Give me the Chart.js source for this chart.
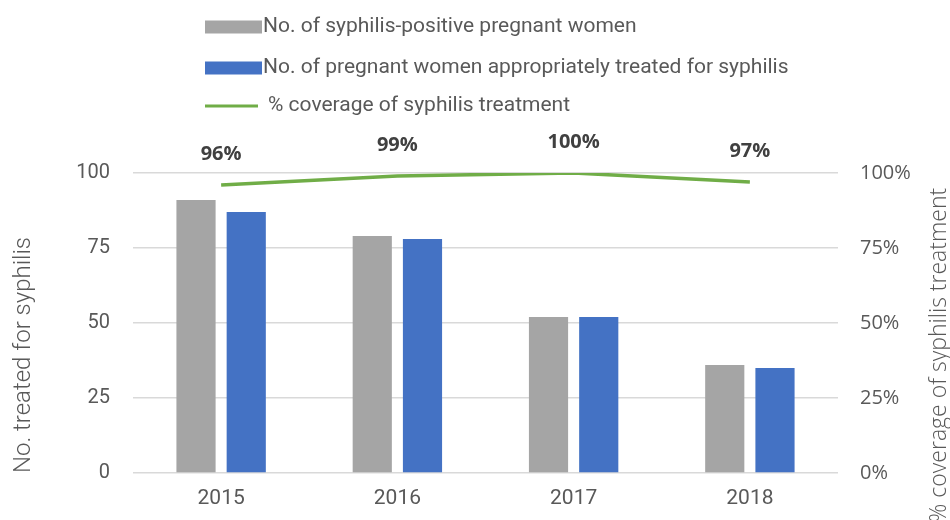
<!DOCTYPE html>
<html>
<head>
<meta charset="utf-8">
<script src="https://cdn.jsdelivr.net/npm/chart.js@4.4.0/dist/chart.umd.min.js"></script>
<style>
  html, body { margin: 0; padding: 0; background: #ffffff; }
  #wrap { width: 950px; height: 520px; }
</style>
</head>
<body>
<div id="wrap"><canvas id="c" width="950" height="520"></canvas></div>
<script>
// Syphilis screening and treatment among pregnant women, 2015-2018
const years = ['2015', '2016', '2017', '2018'];
const positiveWomen = [91, 79, 52, 36];
const treatedWomen = [87, 78, 52, 35];
const coveragePct = [96, 99, 100, 97];

const seriesNames = [
  'No. of syphilis-positive pregnant women',
  'No. of pregnant women appropriately treated for syphilis',
  '% coverage of syphilis treatment'
];
const leftTitle = 'No. treated for syphilis';
const rightTitle = '% coverage of syphilis treatment';

const GRAY = '#A5A5A5', BLUE = '#4472C4', GREEN = '#70AD47';
const TEXT = '#595959';

// Stacked legend drawn above the plot
const stackedLegend = {
  id: 'stackedLegend',
  afterDraw(chart) {
    const ctx = chart.ctx;
    const x0 = 205, boxW = 57, boxH = 13;
    const rows = [27, 68, 106];
    ctx.save();
    ctx.font = '400 21px Roboto';
    ctx.textBaseline = 'middle';
    ctx.textAlign = 'left';
    chart.data.datasets.forEach((ds, i) => {
      const y = rows[i];
      if (ds.type === 'line') {
        ctx.strokeStyle = ds.borderColor;
        ctx.lineWidth = 3;
        ctx.beginPath();
        ctx.moveTo(x0, y);
        ctx.lineTo(x0 + boxW - 4, y);
        ctx.stroke();
        ctx.fillStyle = TEXT;
        ctx.fillText(ds.label, x0 + boxW + 6, y);
      } else {
        ctx.fillStyle = ds.backgroundColor;
        ctx.fillRect(x0, y - boxH / 2, boxW, boxH);
        ctx.fillStyle = TEXT;
        ctx.fillText(ds.label, x0 + boxW + 1, y);
      }
    });
    ctx.restore();
  }
};

// Percentage labels above the coverage line
const coverageLabels = {
  id: 'coverageLabels',
  afterDatasetsDraw(chart) {
    const ctx = chart.ctx;
    const idx = chart.data.datasets.findIndex(d => d.type === 'line');
    const meta = chart.getDatasetMeta(idx);
    const vals = chart.data.datasets[idx].data;
    ctx.save();
    ctx.font = '700 20px "Open Sans"';
    ctx.fillStyle = '#404040';
    ctx.textAlign = 'center';
    ctx.textBaseline = 'middle';
    meta.data.forEach((pt, i) => {
      ctx.fillText(vals[i] + '%', pt.x, pt.y - 31);
    });
    ctx.restore();
  }
};

// Rotated axis titles, both reading bottom-to-top
const axisTitles = {
  id: 'axisTitles',
  afterDraw(chart) {
    const ctx = chart.ctx;
    const cy = 355;
    ctx.save();
    ctx.fillStyle = TEXT;
    ctx.textAlign = 'center';
    ctx.textBaseline = 'middle';
    ctx.translate(24, cy);
    ctx.rotate(-Math.PI / 2);
    ctx.font = '300 24px Roboto';
    ctx.fillText(leftTitle, 0, 0);
    ctx.restore();

    ctx.save();
    ctx.fillStyle = TEXT;
    ctx.textAlign = 'center';
    ctx.textBaseline = 'middle';
    ctx.translate(939, cy);
    ctx.rotate(-Math.PI / 2);
    ctx.font = '300 23px "Open Sans"';
    ctx.fillText(rightTitle, 0, 0);
    ctx.restore();
  }
};

new Chart(document.getElementById('c'), {
  data: {
    labels: years,
    datasets: [
      {
        type: 'bar', label: seriesNames[0], data: positiveWomen,
        backgroundColor: GRAY, yAxisID: 'y',
        categoryPercentage: 0.57, barPercentage: 0.78
      },
      {
        type: 'bar', label: seriesNames[1], data: treatedWomen,
        backgroundColor: BLUE, yAxisID: 'y',
        categoryPercentage: 0.57, barPercentage: 0.78
      },
      {
        type: 'line', label: seriesNames[2], data: coveragePct,
        borderColor: GREEN, borderWidth: 3.5, pointRadius: 0,
        tension: 0, fill: false, yAxisID: 'y1'
      }
    ]
  },
  options: {
    responsive: false,
    animation: false,
    devicePixelRatio: 1,
    layout: { padding: { top: 173, left: 0, right: 0, bottom: 0 } },
    plugins: {
      legend: { display: false },
      tooltip: { enabled: false }
    },
    scales: {
      x: {
        grid: { display: false, drawTicks: false },
        border: { display: false },
        ticks: { color: TEXT, font: { family: 'Roboto', size: 21 }, padding: 13 },
        afterFit(s) { s.height = 47; }
      },
      y: {
        position: 'left',
        min: 0, max: 100,
        ticks: { stepSize: 25, color: TEXT, font: { family: 'Roboto', size: 20 }, padding: 23 },
        grid: { color: '#D9D9D9', lineWidth: 1.5, drawTicks: false },
        border: { display: false },
        afterFit(s) { s.width = 133; }
      },
      y1: {
        position: 'right',
        min: 0, max: 100,
        ticks: {
          stepSize: 25, color: TEXT, font: { family: 'Open Sans', size: 20 }, padding: 22,
          callback: v => v + '%'
        },
        grid: { display: false, drawTicks: false },
        border: { display: false },
        afterFit(s) { s.width = 112; }
      }
    }
  },
  plugins: [stackedLegend, coverageLabels, axisTitles]
});
</script>
</body>
</html>
